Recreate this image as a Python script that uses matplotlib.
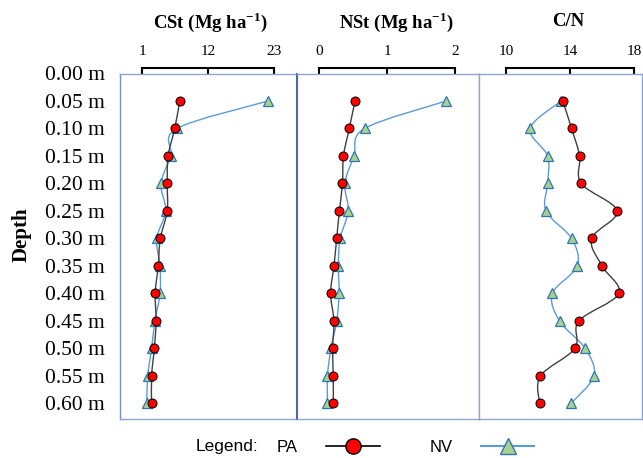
import numpy as np
import matplotlib
matplotlib.use("Agg")
import matplotlib.pyplot as plt
from matplotlib.path import Path
from matplotlib.patches import PathPatch
from matplotlib.lines import Line2D

plt.rcParams['font.family'] = ['Liberation Serif', 'DejaVu Serif']
plt.rcParams['mathtext.fontset'] = 'custom'
plt.rcParams['mathtext.rm'] = 'Liberation Serif'
plt.rcParams['mathtext.bf'] = 'Liberation Serif:bold'

# depth of each sample (m)
depth = [0.05, 0.10, 0.15, 0.20, 0.25, 0.30, 0.35, 0.40, 0.45, 0.50, 0.55, 0.60]
depth_ticks = [0.00, 0.05, 0.10, 0.15, 0.20, 0.25, 0.30, 0.35, 0.40, 0.45, 0.50, 0.55, 0.60]

# carbon stock (Mg ha-1)
cst_pa = [7.3, 6.45, 5.35, 5.2, 5.2, 4.05, 3.7, 3.2, 3.35, 3.05, 2.6, 2.6]
cst_nv = [22.0, 6.8, 5.8, 4.15, 4.95, 3.45, 4.0, 4.0, 3.15, 2.6, 1.95, 1.8]
# nitrogen stock (Mg ha-1)
nst_pa = [0.53, 0.445, 0.36, 0.345, 0.30, 0.26, 0.22, 0.17, 0.22, 0.20, 0.21, 0.21]
nst_nv = [1.87, 0.67, 0.515, 0.38, 0.43, 0.31, 0.285, 0.295, 0.26, 0.175, 0.125, 0.125]
# C/N ratio
cn_pa = [13.55, 14.1, 14.6, 14.7, 16.95, 15.35, 16.0, 17.05, 14.55, 14.3, 12.15, 12.1]
cn_nv = [13.45, 11.5, 12.6, 12.6, 12.5, 14.1, 14.45, 12.9, 13.35, 14.95, 15.5, 14.05]

titles = [r'CSt (Mg ha$^{\mathbf{-1}}$)', r'NSt (Mg ha$^{\mathbf{-1}}$)', 'C/N']
scale_ticks = [[1, 12, 23], [0, 1, 2], [10, 14, 18]]
xlims = [(-2.667, 26.833), (-0.3235, 2.353), (8.3125, 18.5)]

PA_LINE = '#404040'
NV_LINE = '#5B9BD5'
NV_FACE = '#A9D18E'
NV_EDGE = '#2E75B6'
FRAME = '#8EA5D3'


def smooth_path(x, y):
    # excel-like smoothed line (catmull-rom as cubic bezier)
    pts = np.column_stack([x, y])
    n = len(pts)
    verts = [pts[0]]
    codes = [Path.MOVETO]
    for i in range(n - 1):
        p0 = pts[i - 1] if i > 0 else pts[i]
        p1 = pts[i]
        p2 = pts[i + 1]
        p3 = pts[i + 2] if i + 2 < n else pts[i + 1]
        verts += [p1 + (p2 - p0) / 6, p2 - (p3 - p1) / 6, p2]
        codes += [Path.CURVE4] * 3
    return Path(verts, codes)


W, H = 643, 458
fig = plt.figure(figsize=(W / 100, H / 100), dpi=100)

top_px, bot_px = 73.5, 418.5
panels_px = [(120, 297), (297, 479), (479, 642)]
series = [(cst_pa, cst_nv), (nst_pa, nst_nv), (cn_pa, cn_nv)]
title_x = [210, 396, 568]

axes = []
for k, (x0, x1) in enumerate(panels_px):
    ax = fig.add_axes([x0 / W, 1 - bot_px / H, (x1 - x0) / W, (bot_px - top_px) / H])
    axes.append(ax)
    ax.set_xlim(xlims[k])
    ax.set_ylim(0.6273, 0.0)
    ax.set_xticks([])

    pa, nv = series[k]
    ax.add_patch(PathPatch(smooth_path(nv, depth), fill=False, edgecolor=NV_LINE, lw=1.0, zorder=2))
    ax.plot(nv, depth, linestyle='none', marker='^', markersize=7.5,
            markerfacecolor=NV_FACE, markeredgecolor=NV_EDGE, markeredgewidth=0.9, zorder=3)
    ax.add_patch(PathPatch(smooth_path(pa, depth), fill=False, edgecolor=PA_LINE, lw=1.0, zorder=4))
    ax.plot(pa, depth, linestyle='none', marker='o', markersize=6.5,
            markerfacecolor='#FF0000', markeredgecolor='black', markeredgewidth=0.7, zorder=5)

    for side in ['left', 'right', 'top', 'bottom']:
        ax.spines[side].set_color(FRAME)
        ax.spines[side].set_linewidth(1.0)

    # scale bar above each panel
    sec = ax.secondary_xaxis(1 + 5.5 / (bot_px - top_px))
    sec.set_xticks(scale_ticks[k])
    sec.set_xticklabels([str(t) for t in scale_ticks[k]])
    sec.spines['top'].set_bounds(scale_ticks[k][0], scale_ticks[k][-1])
    sec.spines['top'].set_linewidth(1.5)
    sec.tick_params(direction='in', length=4, width=1.5, pad=7, labelsize=11)

    fig.text(title_x[k] / W, 1 - 22 / H, titles[k], fontsize=13.5, fontweight='bold',
             ha='center', va='center')

axes[1].spines['left'].set_color('#4A69A8')
axes[1].spines['left'].set_linewidth(1.5)
axes[0].spines['right'].set_visible(False)
axes[0].spines['left'].set_color('#7090C8')

axes[0].set_yticks(depth_ticks)
axes[0].set_yticklabels([f'{d:.2f} m' for d in depth_ticks])
axes[0].tick_params(axis='y', length=0, pad=11, labelsize=15.5)
for ax in axes[1:]:
    ax.set_yticks([])

fig.text(22 / W, 1 - 235 / H, 'Depth', rotation=90, fontsize=15, fontweight='bold',
         ha='center', va='center')

# legend row
leg_y = 1 - 447 / H
fig.text(196 / W, leg_y, 'Legend:', fontsize=12.5, family='Liberation Sans', va='center')
handles = [
    Line2D([], [], color='black', lw=1.2, marker='o', markersize=11,
           markerfacecolor='#FF0000', markeredgecolor='black'),
    Line2D([], [], color=NV_LINE, lw=1.5, marker='^', markersize=11,
           markerfacecolor=NV_FACE, markeredgecolor=NV_EDGE),
]
fig.legend(handles, ['PA', 'NV'], loc='center left', bbox_to_anchor=(277 / W, leg_y),
           ncol=2, frameon=False, markerfirst=False, borderpad=0, borderaxespad=0,
           handlelength=3.2, handletextpad=1.7, columnspacing=3.0,
           prop={'family': 'Liberation Sans', 'size': 12})

fig.savefig('out.png', dpi=100)
